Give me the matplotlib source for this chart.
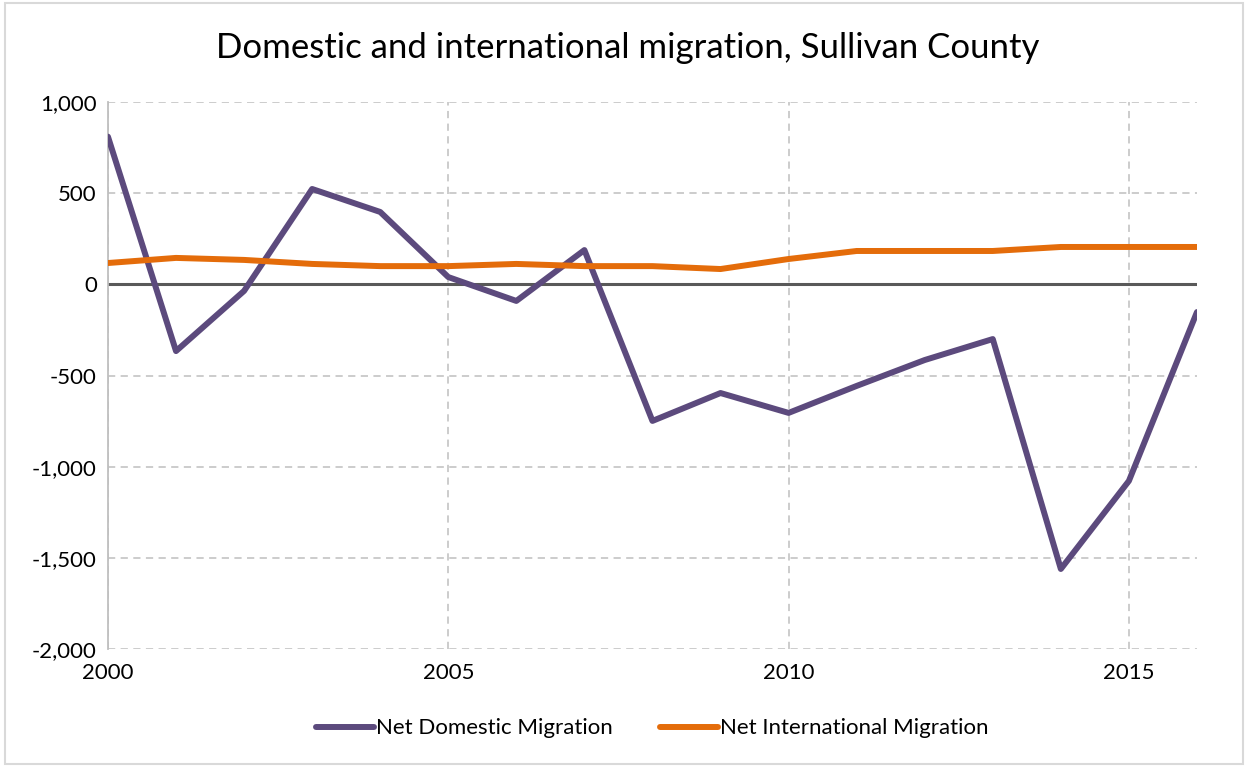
import matplotlib
matplotlib.use('Agg')
import matplotlib.pyplot as plt
from matplotlib.patches import Rectangle
from matplotlib.ticker import FuncFormatter

years = list(range(2000, 2017))
domestic = [810, -366, -36, 523, 397, 40, -91, 188, -749, -596, -705,
            -557, -415, -300, -1561, -1078, -152]
international = [117, 145, 134, 112, 100, 100, 112, 100, 100, 84, 139,
                 183, 183, 183, 205, 205, 205]

plt.rcParams['font.family'] = ['Lato', 'DejaVu Sans']

fig = plt.figure(figsize=(12.48, 7.67), dpi=100)
ax = fig.add_axes([0.0865, 0.1538, 0.8726, 0.7132])

ax.plot(years, domestic, color='#5C4A7D', linewidth=4.3,
        solid_capstyle='round', label='Net Domestic Migration', zorder=3)
ax.plot(years, international, color='#E46C0A', linewidth=4.3,
        solid_capstyle='round', label='Net International Migration', zorder=3)
ax.axhline(0, color='#595959', linewidth=2.2, zorder=2)

ax.set_xlim(2000, 2016)
ax.set_ylim(-2000, 1000)
ax.set_xticks([2000, 2005, 2010, 2015])
ax.set_yticks(range(-2000, 1001, 500))
ax.yaxis.set_major_formatter(FuncFormatter(lambda v, p: f'{int(v):,}'))
ax.tick_params(length=0, labelsize=16, colors='black')
ax.tick_params(axis='x', pad=10)
ax.tick_params(axis='y', pad=8)

ax.grid(True, color='#C8C8C8', linestyle=(0, (4, 3)), linewidth=1.3)
for s in ['top', 'right', 'bottom']:
    ax.spines[s].set_visible(False)
ax.spines['left'].set_color('#BFBFBF')
ax.spines['left'].set_linewidth(1.3)

fig.text(0.503, 0.937, 'Domestic and international migration, Sullivan County',
         ha='center', va='center', fontsize=25)

ax.legend(loc='center', bbox_to_anchor=(0.5, -0.145), ncol=2,
          frameon=False, fontsize=16, handlelength=2.6, handletextpad=0.1,
          columnspacing=2.1)

fig.patches.append(Rectangle((0.004, 0.004), 0.992, 0.992, transform=fig.transFigure,
                             fill=False, edgecolor='#D9D9D9', linewidth=1.5))

fig.savefig('out.png', dpi=100)
